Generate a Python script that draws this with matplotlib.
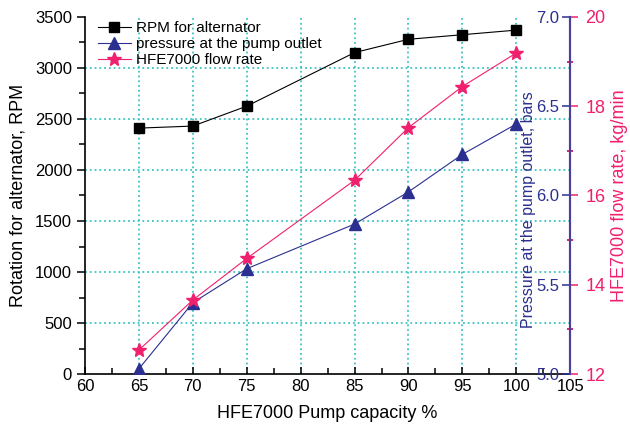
import numpy as np
import matplotlib
matplotlib.use("Agg")
from matplotlib import pyplot as plt
from matplotlib.ticker import MultipleLocator, FormatStrFormatter

plt.rcParams['font.family'] = ['Liberation Sans', 'DejaVu Sans']

capacity = [65, 70, 75, 85, 90, 95, 100]          # HFE7000 pump capacity %
rpm = [2410, 2430, 2625, 3150, 3280, 3325, 3370]  # rotation for alternator
pressure = [5.03, 5.40, 5.59, 5.84, 6.02, 6.23, 6.40]  # bars
flow = [12.54, 13.66, 14.59, 16.34, 17.52, 18.44, 19.19]  # kg/min

navy = '#2b2f8f'
pink = '#f0206e'
spine_c = '#4a3f9a'
grid_c = '#3cc4c4'

fig = plt.figure(figsize=(6.3, 4.32), dpi=100)
ax = fig.add_axes([0.135, 0.134, 0.77, 0.827])

# grid first so it sits under the lines
ax.set_xlim(60, 105)
ax.set_ylim(0, 3500)
for xv in range(65, 105, 5):
    ax.axvline(xv, color=grid_c, ls=':', lw=1.3, zorder=0)
for yv in range(500, 3500, 500):
    ax.axhline(yv, color=grid_c, ls=':', lw=1.3, zorder=0)

l1, = ax.plot(capacity, rpm, color='black', lw=0.8, marker='s', ms=7,
              label='RPM for alternator', zorder=3)

ax2 = ax.twinx()
ax2.set_ylim(5.0, 7.0)
l2, = ax2.plot(capacity, pressure, color=navy, lw=0.8, marker='^', ms=8,
               label='pressure at the pump outlet', zorder=3)

ax3 = ax.twinx()
ax3.set_ylim(12, 20)
l3, = ax3.plot(capacity, flow, color=pink, lw=0.8, marker='*', ms=10,
               label='HFE7000 flow rate', zorder=3)

# main axes styling
ax.spines['top'].set_visible(False)
ax.spines['right'].set_visible(False)
for s in ['left', 'bottom']:
    ax.spines[s].set_linewidth(1.2)
ax.set_xticks(range(60, 110, 5))
ax.xaxis.set_minor_locator(MultipleLocator(2.5))
ax.yaxis.set_major_locator(MultipleLocator(500))
ax.yaxis.set_minor_locator(MultipleLocator(250))
ax.tick_params(axis='x', which='both', direction='in', labelsize=12, width=1.1)
ax.tick_params(axis='x', which='major', length=5)
ax.tick_params(axis='x', which='minor', length=4)
ax.tick_params(axis='y', which='both', direction='out', labelsize=12, width=1.1)
ax.tick_params(axis='y', which='major', length=6)
ax.tick_params(axis='y', which='minor', length=4)
ax.set_xlabel('HFE7000 Pump capacity %', fontsize=13, labelpad=8)
ax.set_ylabel('Rotation for alternator, RPM', fontsize=13, labelpad=6)

# pressure axis: ticks and labels on the left side of the right spine
for s in ['top', 'bottom', 'right']:
    ax2.spines[s].set_visible(False)
ax2.spines['left'].set_visible(True)
ax2.spines['left'].set_position(('axes', 1.0))
ax2.spines['left'].set_color(spine_c)
ax2.spines['left'].set_linewidth(1.5)
ax2.yaxis.set_ticks_position('left')
ax2.yaxis.set_label_position('left')
ax2.yaxis.set_major_locator(MultipleLocator(0.5))
ax2.yaxis.set_minor_locator(MultipleLocator(0.25))
ax2.yaxis.set_major_formatter(FormatStrFormatter('%.1f'))
ax2.tick_params(axis='y', which='major', direction='out', length=6, width=1.1,
                color=navy, labelcolor=navy, labelsize=12, pad=2)
ax2.tick_params(axis='y', which='minor', direction='inout', length=5, width=1.1,
                color=navy)
ax2.set_ylabel('Pressure at the pump outlet, bars', color=navy, fontsize=11.5)
ax2.yaxis.set_label_coords(0.93, 0.46)

# flow axis: right spine
for s in ['top', 'bottom', 'left']:
    ax3.spines[s].set_visible(False)
ax3.spines['right'].set_color(spine_c)
ax3.spines['right'].set_linewidth(1.5)
ax3.yaxis.set_major_locator(MultipleLocator(2))
ax3.yaxis.set_minor_locator(MultipleLocator(1))
ax3.tick_params(axis='y', which='major', direction='out', length=6, width=1.1,
                color=pink, labelcolor=pink, labelsize=13, pad=5)
ax3.tick_params(axis='y', which='minor', direction='inout', length=5, width=1.1,
                color=pink)
ax3.set_ylabel('HFE7000 flow rate, kg/min', color=pink, fontsize=13)
ax3.yaxis.set_label_coords(1.084, 0.5)

ax.legend(handles=[l1, l2, l3], loc='upper left', frameon=False, fontsize=11,
          handlelength=2.2, borderaxespad=0.1, labelspacing=0.15,
          bbox_to_anchor=(0.01, 1.01), handletextpad=0.3)

fig.savefig('out.png', dpi=100)
